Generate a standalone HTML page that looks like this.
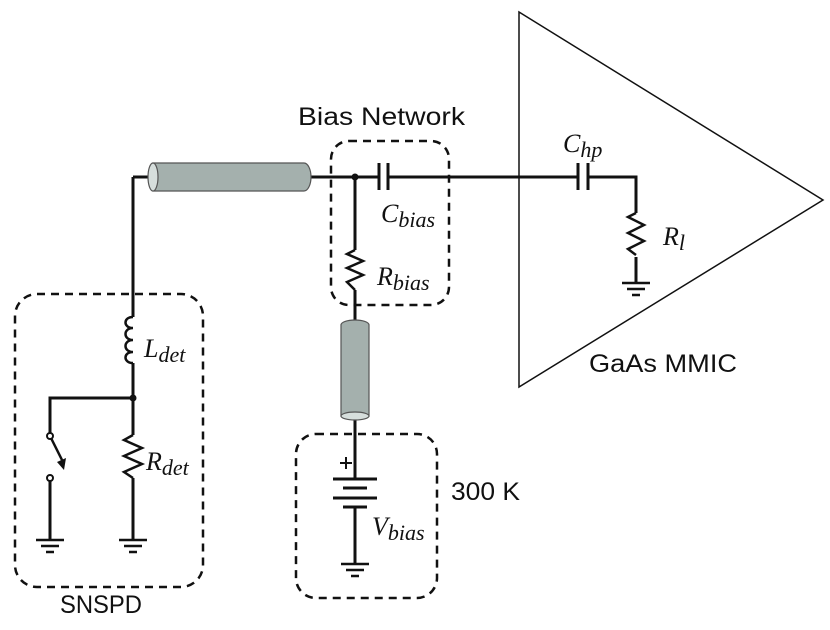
<!DOCTYPE html>
<html><head><meta charset="utf-8"><style>
html,body{margin:0;padding:0;background:#fff;}
svg{display:block}
.s{font-family:"Liberation Sans",sans-serif;font-size:25px;fill:#111}
.m{font-family:"Liberation Serif",serif;font-style:italic;font-size:26px;fill:#111}
.m tspan.sub{font-size:22px}
</style></head><body>
<svg width="830" height="630" viewBox="0 0 830 630" xmlns="http://www.w3.org/2000/svg">
<g fill="none" stroke="#111" stroke-width="3">
<path d="M133 177 V317 M133 363 V435 M133 478 V540"/>
<path d="M133 177 H150 M310 177 H379 M388 177 H578 M588 177 H636 V213 M636 257 V283"/>
<path d="M133 398 H50 V436 M50 478 V540"/>
<path d="M355 177 V250 M355 290 V320 M355 418 V479 M355 507 V564"/>
<path d="M133 317 c-10 0 -10 11 0 11 c-10 0 -10 12 0 12 c-10 0 -10 12 0 12 c-10 0 -10 11 0 11" stroke-width="2.5"/>
<path d="M133 435 l-9 5 l18 8 l-18 8 l18 8 l-18 8 l9 6" stroke-width="2.5"/>
<path d="M355 250 l-8 4 l16 7 l-16 7 l16 7 l-16 7 l8 8" stroke-width="2.5"/>
<path d="M636 213 l-8 4 l16 8 l-16 8 l16 8 l-16 8 l8 6" stroke-width="2.5"/>
<path d="M379 163 V190 M388 163 V190 M578 163 V190 M588 163 V190"/>
<path d="M333 479 H377 M343 488 H367 M333 498 H377 M343 507 H367"/>
<path d="M340 463 H352 M346 457 V469" stroke-width="2"/>
<g stroke-width="2.5">
<path d="M36 540 H64 M41 546 H59 M46 552 H54"/>
<path d="M119 540 H147 M124 546 H142 M129 552 H137"/>
<path d="M341 564 H369 M346 570 H364 M351 576 H359"/>
<path d="M622 283 H650 M627 289 H645 M632 295 H640"/>
</g>
<path d="M50 436 L62 460" stroke-width="2.5"/>
</g>
<polygon points="57,462 66,458 64,470" fill="#111"/>
<circle cx="50" cy="436" r="3" fill="#fff" stroke="#111" stroke-width="2"/>
<circle cx="50" cy="478" r="3" fill="#fff" stroke="#111" stroke-width="2"/>
<circle cx="133" cy="398" r="3.5" fill="#111"/>
<circle cx="355" cy="177" r="3.5" fill="#111"/>
<g stroke="#555" stroke-width="1.2">
<path d="M153 163 H304 A7 14 0 0 1 304 191 H153 Z" fill="#a4b0ad"/>
<ellipse cx="153" cy="177" rx="5" ry="14" fill="#d6dedc"/>
<path d="M341 325 A14 5 0 0 1 369 325 V416 H341 Z" fill="#a4b0ad"/>
<ellipse cx="355" cy="416" rx="14" ry="4" fill="#d6dedc"/>
</g>
<polygon points="519,12 823,200 519,387" fill="none" stroke="#111" stroke-width="1.5"/>
<g fill="none" stroke="#111" stroke-width="2.5" stroke-dasharray="8,6">
<rect x="15" y="294" width="188" height="293" rx="22"/>
<rect x="331" y="141" width="118" height="164" rx="18"/>
<rect x="296" y="434" width="141" height="164" rx="20"/>
</g>
<text class="s" x="298" y="125" textLength="167" lengthAdjust="spacingAndGlyphs">Bias Network</text>
<text class="s" x="60" y="613" textLength="82" lengthAdjust="spacingAndGlyphs">SNSPD</text>
<text class="s" x="451" y="500" textLength="69" lengthAdjust="spacingAndGlyphs">300 K</text>
<text class="s" x="589" y="372" textLength="148" lengthAdjust="spacingAndGlyphs">GaAs MMIC</text>
<text class="m" x="381" y="222">C<tspan class="sub" dy="5">bias</tspan></text>
<text class="m" x="377" y="285">R<tspan class="sub" dy="5">bias</tspan></text>
<text class="m" x="144" y="357">L<tspan class="sub" dy="5">det</tspan></text>
<text class="m" x="146" y="470">R<tspan class="sub" dy="5">det</tspan></text>
<text class="m" x="372" y="535">V<tspan class="sub" dy="5">bias</tspan></text>
<text class="m" x="563" y="152">C<tspan class="sub" dy="5">hp</tspan></text>
<text class="m" x="663" y="245">R<tspan class="sub" dy="5">l</tspan></text>
</svg>
</body></html>
